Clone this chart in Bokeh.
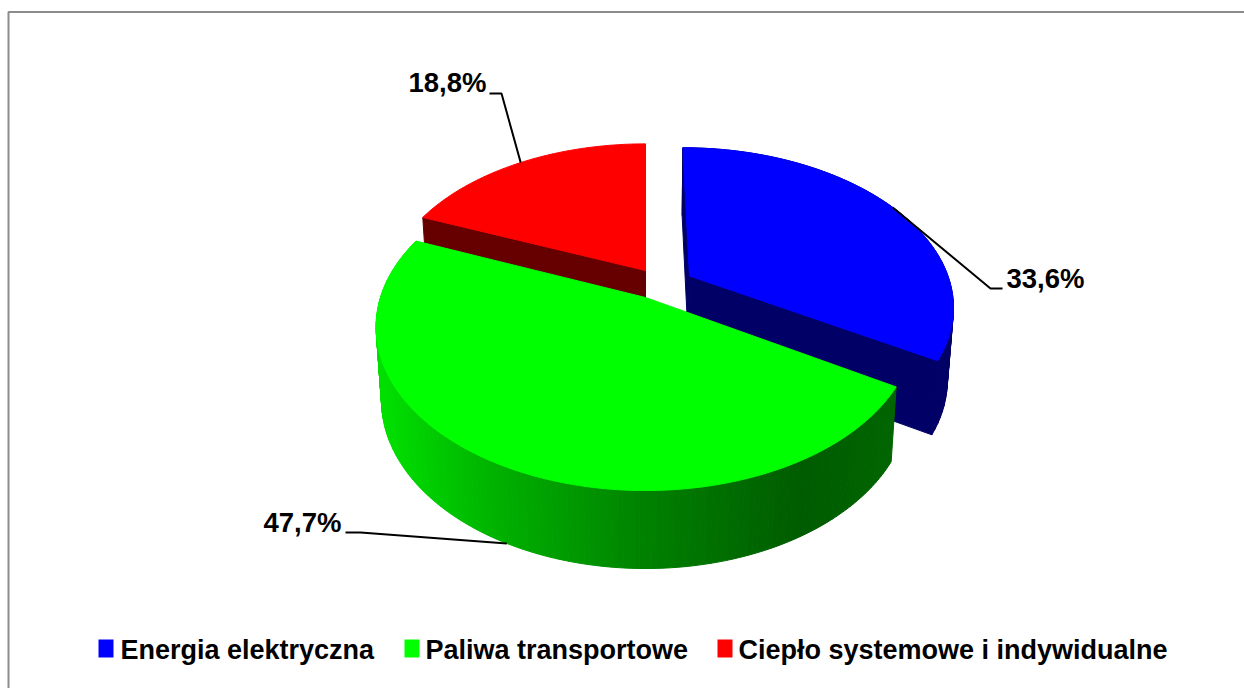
import math
from bokeh.plotting import figure
from bokeh.models import Range1d
from bokeh.core.properties import value
from bokeh.embed import file_html
from bokeh.resources import INLINE

categories = ["Energia elektryczna", "Paliwa transportowe", "Ciepło systemowe i indywidualne"]
shares = [33.6, 47.7, 18.8]
share_labels = ["33,6%", "47,7%", "18,8%"]
top_colors = ["#0000ff", "#00ff00", "#ff0000"]
side_colors = ["#000066", "#006600", "#660000"]

W, H = 1244, 688
FONT = value("Liberation Sans")
p = figure(width=W, height=H, x_range=Range1d(0, W), y_range=Range1d(H, 0),
           output_backend="svg", toolbar_location=None, min_border=0, outline_line_color=None)
p.axis.visible = False
p.grid.visible = False
p.margin = (0, 0, 0, 0)

# perspective projection of the tilted pie
CX, CY, RX, RY, K = 645.0, 297.0, 265.0, 158.3, 0.18
DEPTH, BX, BY = 72.2, 0.98, 1.03


def top(u, v):
    w = 1 - K * v
    return CX + RX * u / w, CY + RY * v / w


def bottom(u, v):
    x, y = top(u, v)
    return CX + BX * (x - CX), CY + DEPTH + BY * (y - CY)


def rim(a, off):
    r = math.radians(a)
    return off[0] + math.sin(r), off[1] - math.cos(r)


total = sum(shares)
starts, ends = [], []
acc = 0.0
for s in shares:
    starts.append(acc)
    acc += s / total * 360
    ends.append(acc)

offsets = [(0.170, -0.140), (0.0, 0.0), (0.0, -0.176)]


def arc(i, step=1.0):
    n = max(2, int((ends[i] - starts[i]) / step))
    return [starts[i] + (ends[i] - starts[i]) * j / n for j in range(n + 1)]


def wedge(i):
    pts = [top(*offsets[i])] + [top(*rim(a, offsets[i])) for a in arc(i)]
    return [q[0] for q in pts], [q[1] for q in pts]


def face(i, a):
    o = offsets[i]
    pts = [top(*o), top(*rim(a, o)), bottom(*rim(a, o)), bottom(*o)]
    return [q[0] for q in pts], [q[1] for q in pts]


def wall(i, a, b):
    o = offsets[i]
    pts = [top(*rim(a, o)), top(*rim(b, o)), bottom(*rim(b, o)), bottom(*rim(a, o))]
    return [q[0] for q in pts], [q[1] for q in pts]


# gradient of the green outer wall: (x, rgb green channel)
grad = [(383, 224), (500, 176), (650, 128), (800, 92), (893, 102)]


def green_shade(x):
    for (x0, g0), (x1, g1) in zip(grad, grad[1:]):
        if x <= x1:
            t = max(0.0, (x - x0) / (x1 - x0))
            return "#00%02x00" % int(g0 + (g1 - g0) * t)
    return "#00%02x00" % grad[-1][1]


# red slice: cut face then top
xs, ys = face(2, starts[2])
p.patch(xs, ys, color=side_colors[2])
xs, ys = wedge(2)
p.patch(xs, ys, color=top_colors[2])

# blue slice: walls, cut faces, top
xs, ys = face(0, starts[0])
p.patch(xs, ys, color=side_colors[0])
a0 = arc(0, 2.0)
for a, b in zip(a0, a0[1:]):
    xs, ys = wall(0, a, b)
    p.patch(xs, ys, color=side_colors[0])
xs, ys = face(0, ends[0])
p.patch(xs, ys, color=side_colors[0])
xs, ys = wedge(0)
p.patch(xs, ys, color=top_colors[0])

# green slice: shaded wall then top
a1 = arc(1, 1.0)
for a, b in zip(a1, a1[1:]):
    xs, ys = wall(1, a, b)
    c = green_shade(sum(xs) / 4)
    p.patch(xs, ys, fill_color=c, line_color=c, line_width=1)
xs, ys = wedge(1)
p.patch(xs, ys, color=top_colors[1])

# leader lines and value labels
mids = [(s + e) / 2 for s, e in zip(starts, ends)]
ax, ay = top(*rim(mids[0], offsets[0]))
p.line([ax, 990, 1002], [ay, 288, 288], line_color="#000000", line_width=2)
ax, ay = bottom(*rim(mids[1], offsets[1]))
p.line([ax, 360, 345], [ay, 532, 532], line_color="#000000", line_width=2)
ax, ay = top(*rim(mids[2], offsets[2]))
p.line([ax, 501, 489], [ay, 93, 93], line_color="#000000", line_width=2)

for lab, x, y in zip(share_labels, [1006, 263, 408], [278, 522, 82]):
    p.text([x], [y], text=[lab], text_font=FONT, text_font_style="bold", text_font_size="27.5px",
           text_color="#000000", text_align="left", text_baseline="middle")

# legend
for cat, col, kx, tx in zip(categories, top_colors, [98, 404, 717], [120, 425, 738]):
    p.quad(left=[kx], right=[kx + 15], top=[639], bottom=[657], color=col, line_width=0)
    p.text([tx], [649], text=[cat], text_font=FONT, text_font_style="bold", text_font_size="27px",
           text_color="#000000", text_align="left", text_baseline="middle")

# frame of the chart area
p.line([8, 8, W], [H, 11.5, 11.5], line_color="#8c8c8c", line_width=2)

open("out.html", "w").write(file_html(p, INLINE))
